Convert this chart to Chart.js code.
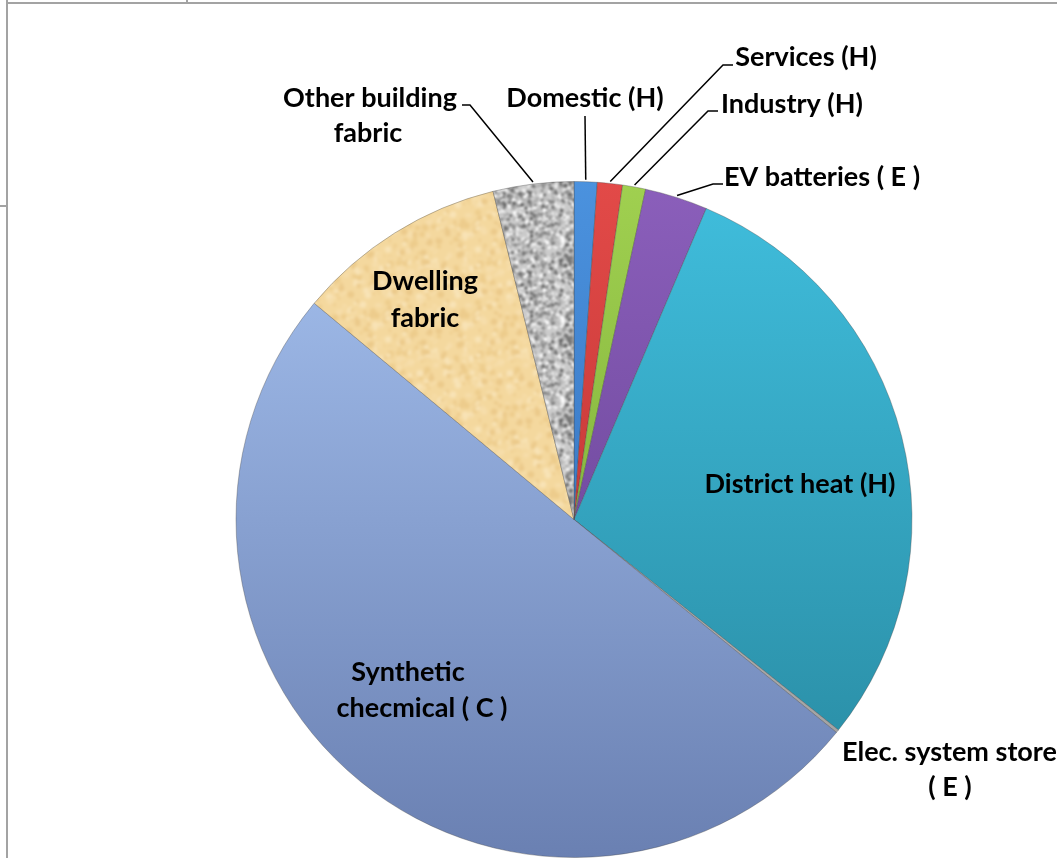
<!DOCTYPE html>
<html lang="en">
<head>
  <meta charset="UTF-8" />
  <title>Storage by type</title>
  <script src="https://cdn.jsdelivr.net/npm/chart.js"></script>
  <style>
    html, body { margin: 0; padding: 0; background: #fff; overflow: hidden; }
    #wrap { position: relative; width: 1057px; height: 858px; }
    #pieChart { position: absolute; left: 0; top: 0; }
    .rule { position: absolute; background: #a3a3a3; }
  </style>
</head>
<body>
<div id="wrap">
  <div class="rule" style="left:6px; top:0; width:2px; height:858px;"></div>
  <div class="rule" style="left:6px; top:2px; width:1051px; height:2px;"></div>
  <div class="rule" style="left:186px; top:0; width:2px; height:3px;"></div>
  <div class="rule" style="left:0; top:205px; width:7px; height:2px;"></div>
  <canvas id="pieChart" width="1057" height="858"></canvas>
</div>

<script>
  // shares of each storage type (%)
  const categories = [
    "Domestic (H)", "Services (H)", "Industry (H)", "EV batteries ( E )",
    "District heat (H)", "Elec. system store ( E )", "Synthetic checmical ( C )",
    "Dwelling fabric", "Other building fabric"
  ];
  const shares = [1.1, 1.2, 1.1, 3.0, 29.3, 0.15, 50.2, 10.1, 3.85];

  // label text lines for each slice, in the same order
  const labelLines = [
    ["Domestic (H)"], ["Services (H)"], ["Industry (H)"], ["EV batteries ( E )"],
    ["District heat (H)"], ["Elec. system store", "( E )"], ["Synthetic", "checmical ( C )"],
    ["Dwelling", "fabric"], ["Other building", "fabric"]
  ];

  // where each label sits, plus the leader elbow (null = no leader line)
  const labelSpots = [
    { lines: [[585, 98]], elbow: [[585, 116]] },
    { lines: [[806, 57]], elbow: [[723, 65], [733, 65]] },
    { lines: [[792, 104]], elbow: [[708, 111], [718, 111]] },
    { lines: [[822, 177]], elbow: [[713, 184], [723, 184]] },
    { lines: [[800, 484]], elbow: null },
    { lines: [[842, 752, "left"], [950, 787]], elbow: null },
    { lines: [[408, 672], [422, 708]], elbow: null },
    { lines: [[425, 281], [425, 318]], elbow: null },
    { lines: [[370, 98], [368, 133]], elbow: [[470, 105], [462, 105]] }
  ];

  const topColors = ["#4b92de", "#e24a48", "#a0d050", "#8b5fbb", "#40bedd", "#cfcfcf", "#a6c2f0", null, null];
  const bottomColors = ["#2a62ae", "#ae2a2a", "#6d9e2e", "#5c3a88", "#27879e", "#9a9a9a", "#6a80b2", null, null];

  // small seeded generator, only used for surface textures
  function seeded(seed) {
    let s = seed;
    return () => { s = (s * 16807) % 2147483647; return s / 2147483647; };
  }

  function texture(size, base, spots, count, rmax, seed, blur) {
    const raw = document.createElement("canvas");
    raw.width = raw.height = size;
    const r = raw.getContext("2d");
    const rnd = seeded(seed);
    r.fillStyle = base;
    r.fillRect(0, 0, size, size);
    for (let i = 0; i < count; i++) {
      const x = rnd() * size, y = rnd() * size, rad = 0.5 + rnd() * rmax;
      r.fillStyle = spots[Math.floor(rnd() * spots.length)];
      for (const dx of [-size, 0, size]) for (const dy of [-size, 0, size]) {
        r.beginPath(); r.arc(x + dx, y + dy, rad, 0, Math.PI * 2); r.fill();
      }
    }
    // tile 3x3 first, blur once, then keep the middle tile so seams stay clean
    const big = document.createElement("canvas");
    big.width = big.height = size * 3;
    const b = big.getContext("2d");
    for (let tx = 0; tx < 3; tx++) for (let ty = 0; ty < 3; ty++) b.drawImage(raw, tx * size, ty * size);
    const out = document.createElement("canvas");
    out.width = out.height = size;
    const o = out.getContext("2d");
    o.filter = "blur(" + blur + "px)";
    o.drawImage(big, -size, -size);
    return out;
  }

  const canvas = document.getElementById("pieChart");
  const c2d = canvas.getContext("2d");
  const granite = c2d.createPattern(texture(80, "#cbcbcb",
    ["#777", "#929292", "#eeeeee", "#fbfbfb", "#b0b0b0", "#666"], 950, 1.7, 4711, 0.8), "repeat");
  const sand = c2d.createPattern(texture(90, "#f4d89e",
    ["#f8e3b6", "#edcc8c", "#f6ddaa", "#ebc98a"], 300, 3, 977, 1.4), "repeat");

  function sliceFill(ctx) {
    const i = ctx.dataIndex;
    if (i === 7) return sand;
    if (i === 8) return granite;
    const area = ctx.chart.chartArea;
    if (!area) return topColors[i];
    const g = ctx.chart.ctx.createLinearGradient(0, area.top, 0, area.bottom);
    g.addColorStop(0, topColors[i]);
    g.addColorStop(1, bottomColors[i]);
    return g;
  }

  // labels and leader lines, anchored on each arc's middle angle
  const labelPlugin = {
    id: "sliceLabels",
    afterDatasetsDraw(chart) {
      const ctx = chart.ctx;
      const arcs = chart.getDatasetMeta(0).data;
      ctx.save();
      ctx.font = "bold 27px Lato, 'Open Sans', sans-serif";
      ctx.fillStyle = "#000";
      ctx.textBaseline = "middle";
      arcs.forEach((arc, i) => {
        const spot = labelSpots[i];
        if (spot.elbow) {
          const p = arc.getProps(["x", "y", "startAngle", "endAngle", "outerRadius"], true);
          const mid = (p.startAngle + p.endAngle) / 2;
          const ex = p.x + Math.cos(mid) * (p.outerRadius + 2);
          const ey = p.y + Math.sin(mid) * (p.outerRadius + 2);
          ctx.beginPath();
          ctx.strokeStyle = "#000";
          ctx.lineWidth = 1.5;
          ctx.moveTo(ex, ey);
          spot.elbow.forEach(pt => ctx.lineTo(pt[0], pt[1]));
          ctx.stroke();
        }
        labelLines[i].forEach((txt, k) => {
          const pos = spot.lines[k];
          ctx.textAlign = pos[2] || "center";
          ctx.fillText(txt, pos[0], pos[1]);
        });
      });
      ctx.restore();
    }
  };

  new Chart(canvas, {
    type: "pie",
    data: {
      labels: categories,
      datasets: [{
        data: shares,
        backgroundColor: sliceFill,
        borderColor: "rgba(70,70,70,0.35)",
        borderWidth: 1
      }]
    },
    options: {
      responsive: false,
      animation: false,
      layout: { padding: { left: 235, right: 144, top: 181, bottom: 0 } },
      plugins: {
        legend: { display: false },
        tooltip: { enabled: false }
      }
    },
    plugins: [labelPlugin]
  });
</script>
</body>
</html>
